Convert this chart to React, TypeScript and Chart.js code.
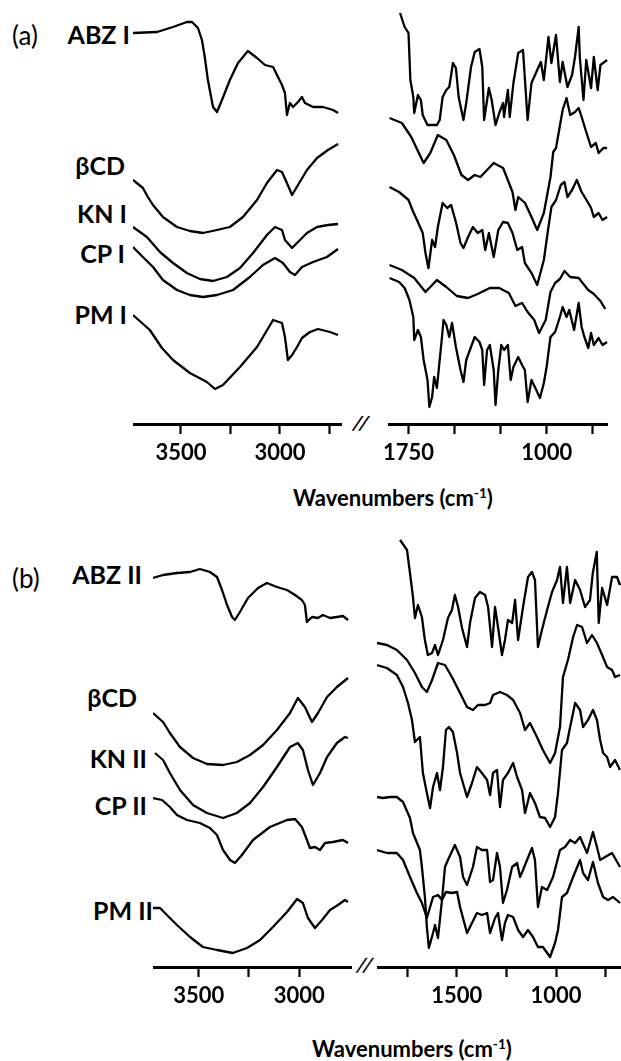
import React, { useEffect, useRef } from "react";
import { Chart, registerables } from "chart.js";

Chart.register(...registerables);

// ---------- Panel (a), high-wavenumber region (cm-1) ----------
const abzILeftWn = [3742,3621,3540,3470,3444,3414,3394,3379,3364,3338,3318,3293,3253,3212,3162,3116,3076,3035,3015,2990,2975,2965,2950,2934,2909,2889,2874,2833,2783,2732,2707];
const abzILeftT = [391,392,397,402,402,396,384,366,344,317,312,324,344,361,373,366,359,357,349,339,331,309,321,317,322,327,321,317,317,314,311];
const bcdALeftWn = [3742,3692,3667,3641,3591,3520,3455,3389,3318,3253,3187,3116,3066,3015,2990,2965,2939,2909,2864,2813,2758,2707];
const bcdALeftT = [244,236,227,219,207,197,193,191,194,197,207,224,241,254,252,241,229,239,254,266,274,280];
const knILeftWn = [3742,3672,3606,3540,3470,3404,3338,3268,3202,3136,3066,3025,2990,2975,2939,2909,2864,2813,2758,2707];
const knILeftT = [197,187,172,161,151,145,143,147,156,171,189,197,194,184,176,182,191,197,199,200];
const cpILeftWn = [3742,3692,3641,3591,3520,3455,3389,3318,3237,3152,3086,3025,2985,2950,2924,2889,2833,2763,2707];
const cpILeftT = [177,167,157,144,134,129,127,129,134,147,159,166,161,152,149,157,162,167,175];
const pmILeftWn = [3742,3657,3596,3540,3455,3369,3328,3288,3202,3116,3035,2990,2975,2960,2939,2914,2889,2849,2808,2748,2707];
const pmILeftT = [109,94,76,64,51,42,35,39,57,77,104,101,87,64,69,77,86,92,95,92,89];

// ---------- Panel (a), fingerprint region ----------
const abzIRightWn = [1796,1771,1750,1740,1724,1719,1699,1683,1673,1647,1596,1581,1565,1545,1529,1509,1493,1478,1452,1437,1411,1391,1365,1350,1340,1314,1299,1278,1258,1237,1232,1211,1201,1181,1155,1129,1104,1083,1052,1032,1016,991,975,950,929,914,888,863,847,827,821,801,786,760,745,724,709,673];
const abzIRightT = [411,397,391,344,327,311,329,324,309,299,299,304,327,334,337,361,356,327,304,321,357,372,375,357,304,336,324,299,311,321,307,334,307,341,371,374,304,341,354,362,344,387,361,389,342,362,337,349,367,397,367,324,364,336,367,334,359,364];
const bcdARightWn = [1853,1786,1735,1694,1668,1632,1591,1545,1504,1463,1427,1391,1360,1288,1237,1186,1170,1155,1118,1083,1052,1016,980,965,950,914,893,873,847,827,811,786,760,734,719,693,673];
const bcdARightT = [306,301,287,271,261,271,289,284,269,249,244,249,247,261,256,232,214,227,221,207,194,211,247,272,276,314,326,309,312,316,307,292,277,281,271,276,276];
const knIRightWn = [1853,1801,1750,1724,1699,1673,1658,1642,1622,1606,1591,1565,1540,1519,1493,1468,1452,1427,1401,1375,1350,1334,1314,1288,1263,1237,1211,1186,1160,1134,1119,1083,1052,1016,991,975,950,924,904,888,863,837,811,775,760,745,719,698,673];
const knIRightT = [237,232,224,212,202,191,171,156,184,177,197,221,216,219,202,181,176,187,197,191,194,174,191,167,194,202,201,191,174,177,161,151,139,164,197,217,224,239,242,227,234,244,232,221,216,207,211,204,207];
const cpIRightWn = [1853,1786,1719,1658,1596,1545,1488,1427,1375,1309,1258,1206,1170,1134,1104,1068,1042,1006,980,955,929,904,873,827,775,745,709,683];
const cpIRightT = [159,154,146,132,144,137,128,126,130,136,136,131,118,121,112,104,91,104,132,141,145,153,147,146,134,130,123,115];
const pmIRightWn = [1853,1801,1771,1745,1724,1719,1699,1683,1668,1647,1637,1622,1611,1596,1581,1570,1560,1545,1529,1514,1493,1468,1452,1437,1411,1391,1365,1350,1340,1324,1309,1288,1278,1263,1247,1232,1211,1196,1181,1155,1134,1119,1104,1083,1057,1037,1016,1001,980,955,929,914,893,878,852,827,811,796,775,760,745,719,698,673];
const pmIRightT = [146,142,136,124,107,84,94,87,64,44,17,27,47,36,64,84,104,99,87,101,77,54,42,64,77,87,82,74,39,74,79,54,19,54,79,74,79,44,57,67,59,54,22,44,34,26,41,57,87,92,107,117,107,114,94,121,97,87,76,91,79,86,79,82];

// ---------- Panel (b), high-wavenumber region ----------
const abzIILeftWn = [3727,3677,3608,3543,3494,3444,3409,3384,3359,3334,3320,3295,3255,3205,3161,3111,3061,3021,2987,2972,2962,2937,2907,2883,2847,2813,2783,2758];
const abzIILeftT = [389,392,394,395,398,395,390,377,362,350,347,355,369,379,384,380,377,372,367,362,345,350,349,352,349,350,351,347];
const bcdBLeftWn = [3727,3677,3643,3593,3528,3459,3379,3310,3245,3180,3111,3046,3007,2972,2937,2907,2862,2813,2758];
const bcdBLeftT = [254,245,234,220,209,203,202,205,212,222,237,254,269,260,245,254,270,280,289];
const knIILeftWn = [3717,3677,3643,3593,3528,3459,3379,3310,3245,3180,3111,3046,3007,2982,2957,2932,2897,2862,2813,2773,2758];
const knIILeftT = [214,207,194,177,162,154,149,154,164,180,200,220,224,217,197,182,194,210,224,230,229];
const cpIILeftWn = [3727,3682,3643,3608,3558,3494,3444,3409,3379,3344,3320,3285,3230,3146,3061,3021,2987,2962,2947,2922,2897,2872,2833,2783,2758];
const cpIILeftT = [169,167,160,152,147,144,139,132,117,107,104,112,127,140,147,148,140,127,119,120,117,124,125,127,124];
const pmIILeftWn = [3727,3692,3658,3608,3543,3479,3409,3330,3260,3195,3131,3061,3011,2982,2957,2922,2887,2847,2808,2773,2758];
const pmIILeftT = [59,59,52,42,30,20,17,14,19,27,40,55,68,64,49,39,47,57,62,67,65];

// ---------- Panel (b), fingerprint region ----------
const abzIIRightWn = [1785,1750,1735,1720,1710,1695,1675,1660,1645,1624,1609,1594,1569,1544,1524,1509,1493,1473,1448,1433,1408,1383,1357,1342,1322,1307,1292,1272,1257,1242,1221,1206,1191,1166,1141,1121,1106,1091,1071,1045,1020,995,980,965,945,929,904,879,854,829,815,795,785,768,743,718,693,678];
const abzIIRightT = [427,417,394,370,349,362,350,327,312,314,322,312,327,349,357,372,360,339,320,344,369,375,372,360,320,360,340,312,327,347,344,367,327,360,390,395,387,320,337,357,375,387,400,364,400,364,387,377,360,367,394,415,344,379,362,390,390,382];
const bcdBRightWn = [1901,1851,1801,1750,1710,1675,1650,1624,1594,1559,1524,1483,1448,1418,1393,1357,1332,1317,1282,1247,1216,1181,1156,1131,1096,1066,1030,1005,980,965,940,914,894,869,844,819,794,768,743,718,703,678];
const bcdBRightT = [324,322,317,307,294,280,275,287,304,302,290,274,260,257,262,262,264,272,275,272,267,254,237,244,230,217,204,214,240,290,307,330,342,340,324,332,324,312,300,297,290,292];
const knIIRightWn = [1901,1851,1801,1770,1745,1725,1710,1685,1670,1650,1634,1619,1599,1584,1569,1554,1539,1519,1498,1483,1448,1423,1398,1373,1347,1332,1317,1297,1282,1267,1242,1216,1196,1171,1156,1131,1106,1081,1055,1030,1005,990,970,945,929,904,879,864,839,814,794,778,763,743,728,703,678];
const knIIRightT = [302,299,292,280,264,247,225,230,194,174,159,180,194,177,200,237,240,235,214,194,170,184,200,194,187,172,194,197,160,187,194,204,190,177,154,174,164,150,149,140,150,174,217,224,240,264,257,240,247,257,247,227,214,210,200,207,197];
const cpIIRightWn = [1901,1871,1836,1801,1770,1735,1720,1685,1675,1660,1650,1640,1619,1609,1594,1574,1554,1524,1498,1483,1448,1423,1398,1373,1347,1332,1307,1292,1272,1257,1242,1216,1191,1166,1141,1116,1091,1066,1030,1005,990,970,945,914,879,864,839,814,789,763,738,713,678];
const cpIIRightT = [170,169,170,170,165,149,134,117,100,70,40,19,34,42,29,67,75,74,75,60,34,44,54,52,54,34,49,54,27,44,52,50,37,30,37,30,20,20,10,24,37,70,74,90,107,94,87,105,84,70,67,70,64];
const pmIIRightWn = [1901,1851,1801,1770,1735,1700,1675,1650,1619,1594,1574,1559,1544,1509,1483,1468,1448,1418,1398,1373,1347,1332,1317,1297,1282,1267,1247,1221,1196,1181,1166,1146,1121,1106,1091,1071,1045,1015,980,955,929,904,879,844,814,794,778,753,718,678];
const pmIIRightT = [117,114,114,107,90,74,64,49,70,72,67,100,107,122,110,90,82,100,120,117,117,85,87,114,100,64,77,100,104,90,97,107,119,107,60,80,77,90,117,120,127,124,130,114,135,120,107,110,114,100];

// ---------- Axis ticks ----------
const highTicks = [3500, 3250, 3000, 2750];
const highTicksB = [3500, 3250, 3000];
const highLabels = [3500, 3000];
const lowTicks = [1750, 1500, 1250, 1000, 750];
const lowLabelsA = [1750, 1000];
const lowLabelsB = [1500, 1000];

// ---------- Sample labels ----------
const labelsA = ["ABZ I", "\u03B2CD", "KN I", "CP I", "PM I"];
const labelsB = ["ABZ II", "\u03B2CD", "KN II", "CP II", "PM II"];
const axisTitle = "Wavenumbers (cm";

type Pair = [number[], number[]];

const AXIS_H = 50;

function Spectra(props: {
  left: number; top: number; width: number; plotH: number;
  xMin: number; xMax: number; ticks: number[]; labels: number[]; series: Pair[];
}) {
  const ref = useRef<HTMLCanvasElement>(null);
  const { left, top, width, plotH, xMin, xMax, ticks, labels, series } = props;
  useEffect(() => {
    const chart = new Chart(ref.current as HTMLCanvasElement, {
      type: "line",
      data: {
        datasets: series.map(([wn, t]) => ({
          data: wn.map((w, i) => ({ x: w, y: t[i] })),
          borderColor: "#000",
          borderWidth: 2.3,
          borderJoinStyle: "round",
          pointRadius: 0,
          tension: 0,
          fill: false,
          clip: 4,
        })),
      },
      options: {
        animation: false,
        responsive: false,
        maintainAspectRatio: false,
        layout: { padding: 0 },
        plugins: { legend: { display: false }, tooltip: { enabled: false } },
        scales: {
          x: {
            type: "linear",
            reverse: true,
            min: xMin,
            max: xMax,
            afterBuildTicks: (s: any) => {
              s.ticks = ticks.map((v) => ({ value: v }));
            },
            afterFit: (s: any) => {
              s.height = AXIS_H;
            },
            ticks: {
              autoSkip: false,
              maxRotation: 0,
              padding: 6,
              color: "#000",
              font: { family: "Lato", size: 22, weight: "bold" },
              callback: (v: any) => (labels.includes(Number(v)) ? String(v) : ""),
            },
            grid: {
              display: true,
              drawOnChartArea: false,
              drawTicks: true,
              tickLength: 10,
              tickWidth: 2.2,
              tickColor: "#000",
            },
            border: { display: true, color: "#000", width: 3 },
          },
          y: { display: false, min: 0, max: plotH },
        },
      },
    } as any);
    return () => chart.destroy();
  }, []);
  const h = plotH + AXIS_H;
  return (
    <canvas
      ref={ref}
      width={width}
      height={h}
      style={{ position: "absolute", left, top, width, height: h }}
    />
  );
}

const labelStyle: React.CSSProperties = {
  position: "absolute",
  fontFamily: "Lato",
  fontWeight: 700,
  fontSize: 25,
  lineHeight: 1,
  transform: "translateY(-50%)",
  whiteSpace: "nowrap",
  color: "#000",
};

function RightLabel({ text, right, cy }: { text: string; right: number; cy: number }) {
  return <div style={{ ...labelStyle, right: 621 - right, top: cy }}>{text}</div>;
}

function AxisTitle({ cx, cy }: { cx: number; cy: number }) {
  return (
    <div
      style={{
        position: "absolute",
        left: cx,
        top: cy,
        transform: "translate(-50%, -50%)",
        fontFamily: "Lato",
        fontWeight: 700,
        fontSize: 22,
        lineHeight: 1,
        whiteSpace: "nowrap",
      }}
    >
      {axisTitle}
      <sup style={{ fontSize: "0.62em", lineHeight: 0 }}>-1</sup>)
    </div>
  );
}

function Break({ cx, cy }: { cx: number; cy: number }) {
  return (
    <div
      style={{
        position: "absolute",
        left: cx,
        top: cy,
        transform: "translate(-50%, -50%) skewX(-20deg)",
        fontFamily: "DejaVu Sans",
        fontWeight: 700,
        fontSize: 18,
        lineHeight: 1,
        background: "#fff",
        padding: "0 2px",
      }}
    >
      //
    </div>
  );
}

const yA = [34, 165, 213, 253, 314];
const rA = [130, 125, 127, 125, 127];
const yB = [574, 697, 758, 805, 910];
const rB = [142, 137, 147, 147, 153];

export default function App() {
  return (
    <div
      style={{
        position: "absolute",
        left: 0,
        top: 0,
        width: 621,
        height: 1061,
        background: "#fff",
        overflow: "hidden",
      }}
    >
      <Spectra
        left={133} top={0} width={209} plotH={424}
        xMin={2687} xMax={3742} ticks={highTicks} labels={highLabels}
        series={[[abzILeftWn, abzILeftT], [bcdALeftWn, bcdALeftT], [knILeftWn, knILeftT], [cpILeftWn, cpILeftT], [pmILeftWn, pmILeftT]]}
      />
      <Spectra
        left={377} top={0} width={231} plotH={424}
        xMin={668} xMax={1853} ticks={lowTicks} labels={lowLabelsA}
        series={[[abzIRightWn, abzIRightT], [bcdARightWn, bcdARightT], [knIRightWn, knIRightT], [cpIRightWn, cpIRightT], [pmIRightWn, pmIRightT]]}
      />
      <Spectra
        left={153} top={530} width={199} plotH={437}
        xMin={2738} xMax={3727} ticks={highTicksB} labels={highLabels}
        series={[[abzIILeftWn, abzIILeftT], [bcdBLeftWn, bcdBLeftT], [knIILeftWn, knIILeftT], [cpIILeftWn, cpIILeftT], [pmIILeftWn, pmIILeftT]]}
      />
      <Spectra
        left={377} top={530} width={244} plotH={437}
        xMin={673} xMax={1901} ticks={lowTicks} labels={lowLabelsB}
        series={[[abzIIRightWn, abzIIRightT], [bcdBRightWn, bcdBRightT], [knIIRightWn, knIIRightT], [cpIIRightWn, cpIIRightT], [pmIIRightWn, pmIIRightT]]}
      />

      <div style={{ position: "absolute", left: 12, top: 35, transform: "translateY(-50%)", fontFamily: "Lato", fontSize: 26, lineHeight: 1 }}>(a)</div>
      <div style={{ position: "absolute", left: 12, top: 578, transform: "translateY(-50%)", fontFamily: "Lato", fontSize: 26, lineHeight: 1 }}>(b)</div>

      {labelsA.map((t, i) => (
        <RightLabel key={"a" + i} text={t} right={rA[i]} cy={yA[i]} />
      ))}
      {labelsB.map((t, i) => (
        <RightLabel key={"b" + i} text={t} right={rB[i]} cy={yB[i]} />
      ))}

      <Break cx={361} cy={423} />
      <Break cx={365} cy={965} />

      <AxisTitle cx={393} cy={498} />
      <AxisTitle cx={412} cy={1049} />
    </div>
  );
}
